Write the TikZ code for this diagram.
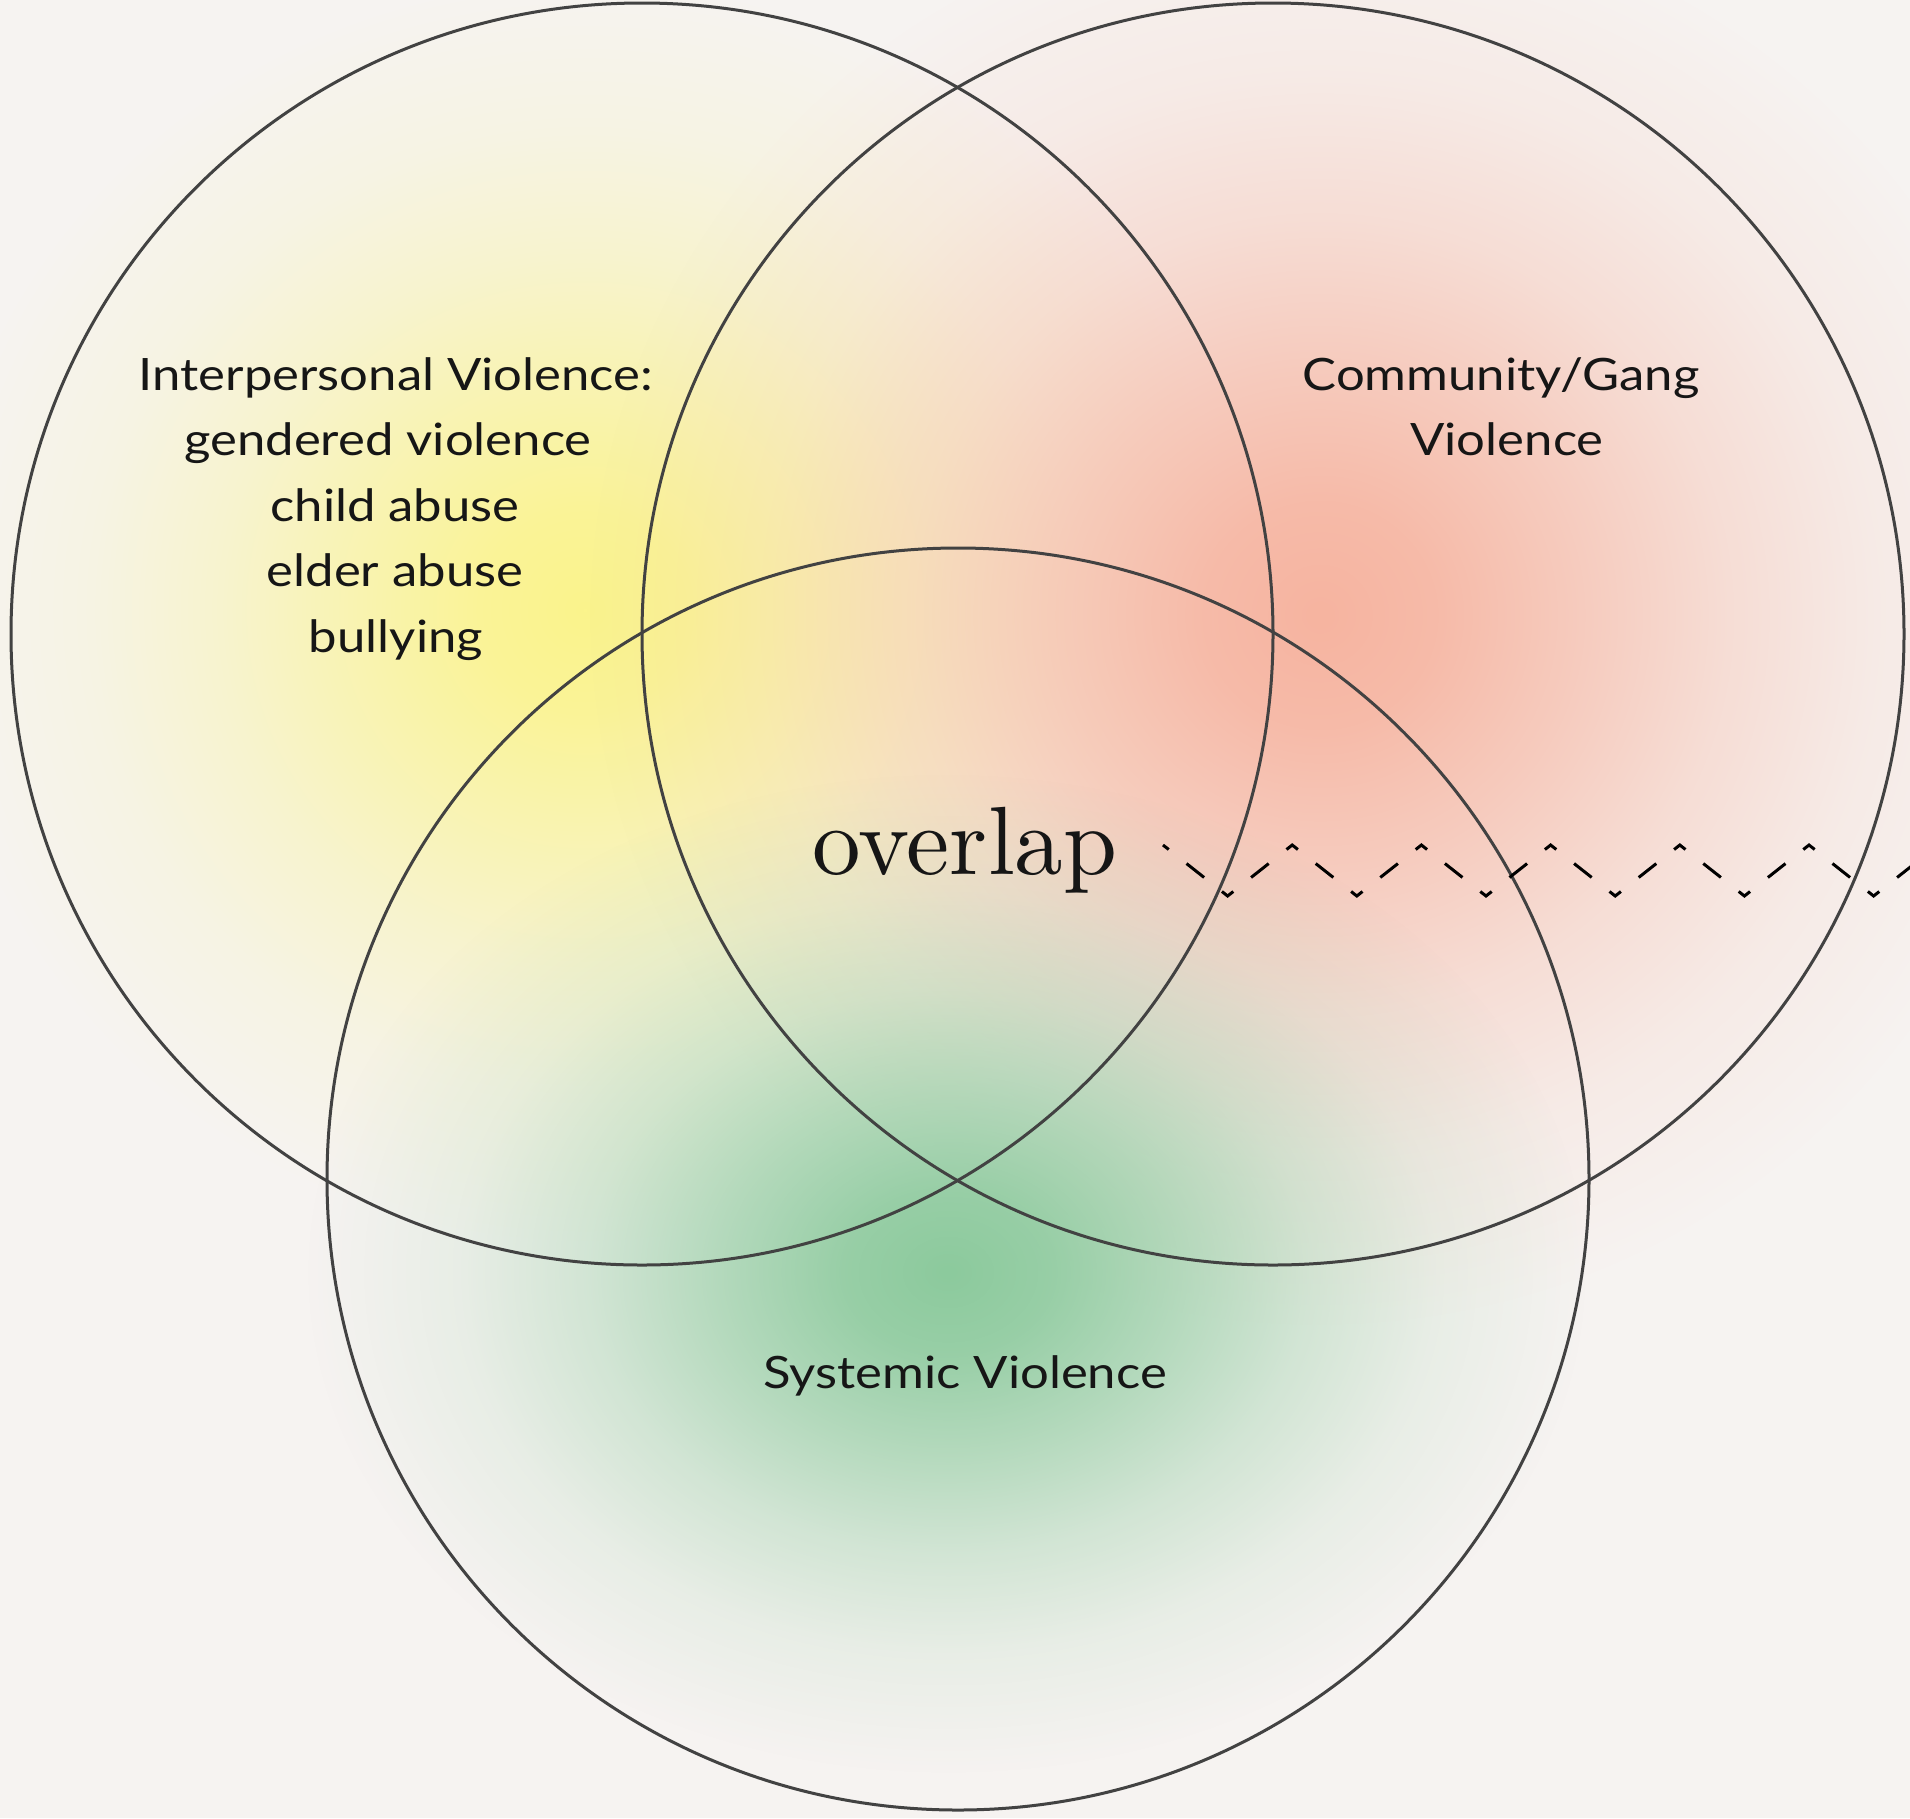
\documentclass[tikz,border=0pt]{standalone}
\usepackage{fontspec}
\newfontfamily\labelfont[FakeStretch=1.14]{Lato}
\newfontfamily\ovfont{lmroman10-regular.otf}
\usetikzlibrary{fadings}
\definecolor{bgcol}{HTML}{F6F3F1}
\definecolor{ringcol}{HTML}{424242}
\definecolor{inkcol}{HTML}{161616}
\definecolor{glowyellow}{HTML}{FBF48C}
\definecolor{glowred}{HTML}{F6B4A0}
\definecolor{glowgreen}{HTML}{8CCA9D}
\pgfdeclareradialshading{glowshade}{\pgfpointorigin}{color(0bp)=(white); color(4bp)=(white!89!black); color(9bp)=(white!62!black); color(14bp)=(white!34!black); color(19bp)=(white!13!black); color(25bp)=(black); color(50bp)=(black)}
\pgfdeclarefading{glowfade}{\pgfuseshading{glowshade}}
\tikzset{
  ring/.style={circle, draw=ringcol, line width=3pt, minimum size=1262pt, inner sep=0pt},
  lab/.style={font=\labelfont\fontsize{44.6}{66}\selectfont, text=inkcol, anchor=base, inner sep=0pt},
  bigword/.style={font=\ovfont\fontsize{97}{110}\selectfont, text=inkcol, anchor=base, inner sep=0pt},
  zig/.style={line width=3pt, black, dash pattern=on 14.5pt off 22.7pt on 22.4pt off 22.7pt, dash phase=7.25pt, line join=miter}
}
\begin{document}
\begin{tikzpicture}[x=1pt,y=-1pt]
\useasboundingbox (0,0) rectangle (1910,1818);
\fill[bgcol] (0,0) rectangle (1910,1818);
% glows
\fill[glowyellow, path fading=glowfade] (585,610) ellipse [x radius=650pt, y radius=630pt];
\fill[glowred, path fading=glowfade] (1320,615) ellipse [x radius=730pt, y radius=710pt];
\fill[glowgreen, path fading=glowfade] (948,1272) ellipse [x radius=640pt, y radius=500pt];
% circles
\node[ring] (interp) at (642,634) {};
\node[ring] (community) at (1273,634) {};
\node[ring] (systemic) at (958,1179) {};
% labels
\node[lab] (i1) at (396,390) {Interpersonal Violence:};
\node[lab] (i2) at (388,455.5) {gendered violence};
\node[lab] (i3) at (395,521) {child abuse};
\node[lab] (i4) at (395,586.5) {elder abuse};
\node[lab] (i5) at (396,652) {bullying};
\node[lab] (c1) at (1501,390) {Community/Gang};
\node[lab] (c2) at (1507,455) {Violence};
\node[lab] (s1) at (965,1388) {Systemic Violence};
\node[bigword] (ov) at (965,874) {overlap};
% zigzag
\coordinate (z0) at (1163,845);
\coordinate (z1) at (1227.6,896);
\coordinate (z2) at (1292.2,845);
\coordinate (z3) at (1356.8,896);
\coordinate (z4) at (1421.4,845);
\coordinate (z5) at (1486,896);
\coordinate (z6) at (1550.6,845);
\coordinate (z7) at (1615.2,896);
\coordinate (z8) at (1679.8,845);
\coordinate (z9) at (1744.4,896);
\coordinate (z10) at (1809,845);
\coordinate (z11) at (1873.6,896);
\coordinate (z12) at (1938.2,845);
\begin{scope}
\clip (0,0) rectangle (1910,1818);
\draw[zig] (z0) -- (z1) -- (z2) -- (z3) -- (z4) -- (z5) -- (z6) -- (z7) -- (z8) -- (z9) -- (z10) -- (z11) -- (z12);
\end{scope}
\end{tikzpicture}
\end{document}
